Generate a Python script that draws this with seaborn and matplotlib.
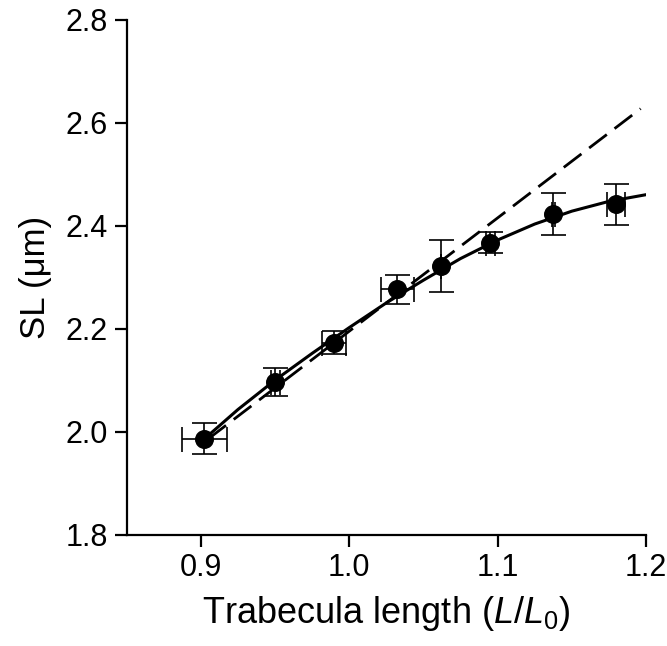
import numpy as np
import matplotlib
matplotlib.use('Agg')
import matplotlib.pyplot as plt
import seaborn as sns

# ── Data ──────────────────────────────────────────────────────────────────────
trab_len = [0.9024, 0.9500, 0.9897, 1.0325, 1.0617, 1.0949, 1.1376, 1.1797]
sl_mean  = [1.986, 2.097, 2.173, 2.276, 2.322, 2.367, 2.422, 2.441]
sl_err   = [0.030, 0.027, 0.023, 0.028, 0.051, 0.021, 0.041, 0.039]
len_err  = [0.015, 0.003, 0.008, 0.011, 0.000, 0.003, 0.001, 0.006]

# fitted curve (solid)
fit_x = [0.9024, 0.925, 0.95, 0.975, 1.0, 1.025, 1.05, 1.075, 1.1, 1.125, 1.15, 1.175, 1.2]
fit_y = [1.986, 2.043, 2.100, 2.152, 2.202, 2.250, 2.294, 2.336, 2.372, 2.403, 2.428, 2.447, 2.460]

# proportional line (dashed)
prop_x = [0.905, 1.1964]
prop_y = [1.986, 2.627]

sns.set_style("ticks")
plt.rcParams['font.family'] = ['Liberation Sans', 'DejaVu Sans']
plt.rcParams['mathtext.fontset'] = 'custom'
plt.rcParams['mathtext.rm'] = 'Liberation Sans'
plt.rcParams['mathtext.it'] = 'Liberation Sans:italic'
plt.rcParams['text.color'] = 'black'
plt.rcParams['axes.labelcolor'] = 'black'

fig = plt.figure(figsize=(6.67, 6.46), dpi=100)
ax = fig.add_axes([0.190, 0.1724, 0.7785, 0.7973])

sns.lineplot(x=prop_x, y=prop_y, ax=ax, color="black", lw=2.0,
             linestyle=(0, (8, 3.5)), zorder=2)
sns.lineplot(x=fit_x, y=fit_y, ax=ax, color="black", lw=2.2, zorder=3)
ax.errorbar(trab_len, sl_mean, yerr=sl_err, xerr=len_err, fmt="none",
            ecolor="black", elinewidth=1.2, capsize=9, capthick=1.2, zorder=4)
sns.scatterplot(x=trab_len, y=sl_mean, ax=ax, color="black", s=160,
                edgecolor="black", zorder=5)

ax.set_xlim(0.85, 1.2)
ax.set_ylim(1.8, 2.8)
ax.set_xticks([0.9, 1.0, 1.1, 1.2])
ax.set_xticklabels(["0.9", "1.0", "1.1", "1.2"])
ax.set_yticks([1.8, 2.0, 2.2, 2.4, 2.6, 2.8])
ax.set_yticklabels(["1.8", "2.0", "2.2", "2.4", "2.6", "2.8"])

for s in ["top", "right"]:
    ax.spines[s].set_visible(False)
for s in ["left", "bottom"]:
    ax.spines[s].set_linewidth(1.6)
    ax.spines[s].set_color("black")
ax.tick_params(axis="both", direction="out", length=8.5, width=1.6,
               labelsize=22, colors="black", pad=5)

ax.set_xlabel(r"Trabecula length ($\mathit{L}$/$\mathit{L}_\mathrm{0}$)",
              fontsize=26, labelpad=8)
ax.set_ylabel("SL (μm)", fontsize=25, labelpad=10)

plt.savefig("out.png", dpi=100, facecolor="white")
plt.close()
